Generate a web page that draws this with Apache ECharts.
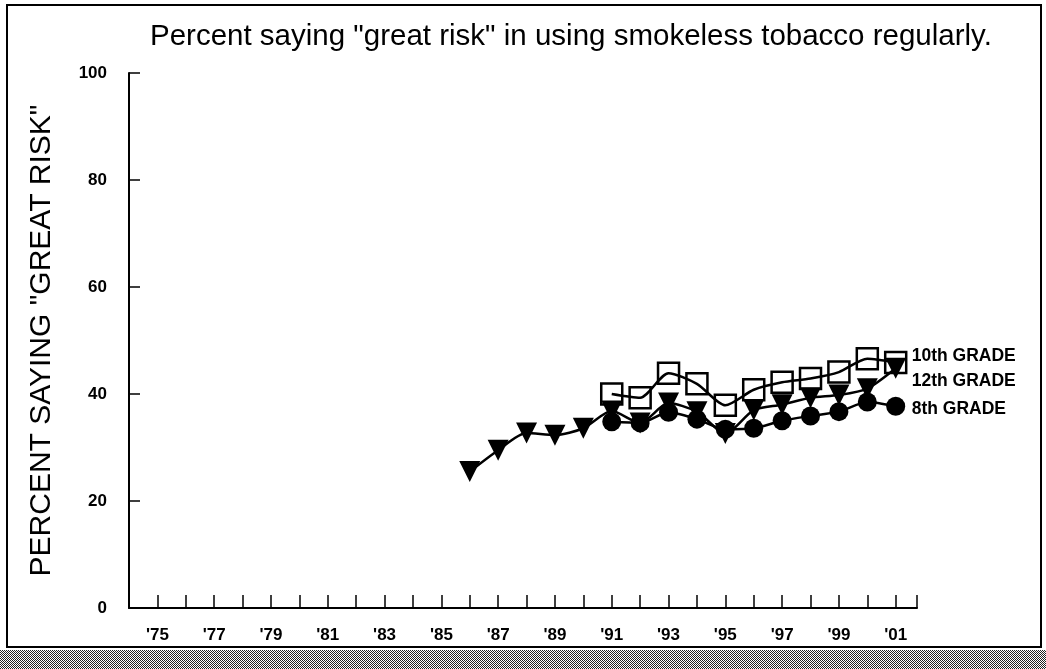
<!DOCTYPE html>
<html>
<head>
<meta charset="utf-8">
<title>Smokeless tobacco great risk</title>
<script src="https://cdn.jsdelivr.net/npm/echarts@6/dist/echarts.min.js"></script>
<style>
  html, body { margin: 0; padding: 0; background: #fff; }
  #chart { width: 1046px; height: 669px; }
</style>
</head>
<body>
<div id="chart"></div>
<script>
// values
var years12 = [1986, 1987, 1988, 1989, 1990, 1991, 1992, 1993, 1994, 1995, 1996, 1997, 1998, 1999, 2000, 2001];
var grade12 = [25.5, 29.5, 32.7, 32.3, 33.6, 36.8, 34.6, 38.3, 36.7, 32.6, 37.0, 38.0, 39.3, 39.8, 41.0, 44.8];
var years8_10 = [1991, 1992, 1993, 1994, 1995, 1996, 1997, 1998, 1999, 2000, 2001];
var grade10 = [40.0, 39.3, 43.9, 41.9, 37.9, 40.8, 42.2, 42.9, 44.1, 46.6, 45.9];
var grade8 = [34.8, 34.6, 36.6, 35.3, 33.4, 33.6, 35.0, 35.9, 36.7, 38.5, 37.7];
var yTicks = [0, 20, 40, 60, 80, 100];

function pairs(xs, ys) {
    return xs.map(function (x, i) { return [x, ys[i]]; });
}

// dithered band under the frame
function hatch() {
    var c = document.createElement('canvas');
    c.width = 2; c.height = 2;
    var g = c.getContext('2d');
    g.fillStyle = '#fff'; g.fillRect(0, 0, 2, 2);
    g.fillStyle = '#222'; g.fillRect(0, 0, 1, 1); g.fillRect(1, 1, 1, 1);
    return c;
}

var font = 'Liberation Sans, Arial, Helvetica, sans-serif';
var sizes = { rect: 21, triangle: 21, circle: 19 };

function lineSeries(name, data, symbol, fill, labelOffset) {
    return {
        name: name,
        type: 'line',
        data: data,
        symbol: symbol,
        symbolSize: sizes[symbol],
        symbolRotate: symbol === 'triangle' ? 180 : 0,
        showAllSymbol: true,
        smooth: 0.25,
        lineStyle: { color: '#000', width: 2.5 },
        itemStyle: { color: fill, borderColor: '#000', borderWidth: symbol === 'rect' ? 2.5 : 0 },
        endLabel: {
            show: true,
            formatter: name,
            color: '#000',
            fontFamily: font,
            fontWeight: 'bold',
            fontSize: 17.5,
            offset: labelOffset
        },
        animation: false
    };
}

var chart = echarts.init(document.getElementById('chart'));
chart.setOption({
    backgroundColor: '#fff',
    animation: false,
    title: {
        text: 'Percent saying "great risk" in using smokeless tobacco regularly.',
        left: 145,
        top: 17,
        textStyle: { fontFamily: font, fontWeight: 'normal', fontSize: 29.5, color: '#000' }
    },
    grid: { left: 129, right: 129, top: 73, bottom: 61 },
    xAxis: {
        type: 'value',
        min: 1974,
        max: 2001.75,
        interval: 1,
        splitLine: { show: false },
        axisLine: { lineStyle: { color: '#000', width: 2 } },
        axisTick: { inside: true, length: 13, lineStyle: { color: '#000', width: 1.5 } },
        axisLabel: {
            margin: 19,
            color: '#000',
            fontFamily: font,
            fontWeight: 'bold',
            fontSize: 17,
            showMinLabel: true,
            showMaxLabel: true,
            formatter: function (v) {
                if (v % 2 === 0 || v % 1 !== 0) return '';
                return "'" + String(v).slice(2);
            }
        }
    },
    yAxis: {
        type: 'value',
        min: 0,
        max: 100,
        interval: 20,
        name: 'PERCENT SAYING "GREAT RISK"',
        nameLocation: 'middle',
        nameRotate: 90,
        nameGap: 72,
        nameTextStyle: { fontFamily: font, fontSize: 30, color: '#000' },
        splitLine: { show: false },
        axisLine: { lineStyle: { color: '#000', width: 2 } },
        axisTick: { inside: true, length: 11, lineStyle: { color: '#000', width: 1.5 } },
        axisLabel: {
            margin: 22,
            color: '#000',
            fontFamily: font,
            fontWeight: 'bold',
            fontSize: 17,
            formatter: function (v) { return yTicks.indexOf(v) >= 0 ? String(v) : ''; }
        }
    },
    series: [
        lineSeries('10th GRADE', pairs(years8_10, grade10), 'rect', 'rgba(0,0,0,0)', [8, -6]),
        lineSeries('12th GRADE', pairs(years12, grade12), 'triangle', '#000', [8, 13]),
        lineSeries('8th GRADE', pairs(years8_10, grade8), 'circle', '#000', [8, 3])
    ],
    graphic: [
        {
            type: 'rect',
            shape: { x: 7, y: 5, width: 1034, height: 642 },
            style: { fill: 'none', stroke: '#000', lineWidth: 2 },
            silent: true
        },
        {
            type: 'rect',
            shape: { x: 0, y: 650, width: 1046, height: 19 },
            style: { fill: { image: hatch(), repeat: 'repeat' } },
            silent: true
        }
    ]
});
</script>
</body>
</html>
